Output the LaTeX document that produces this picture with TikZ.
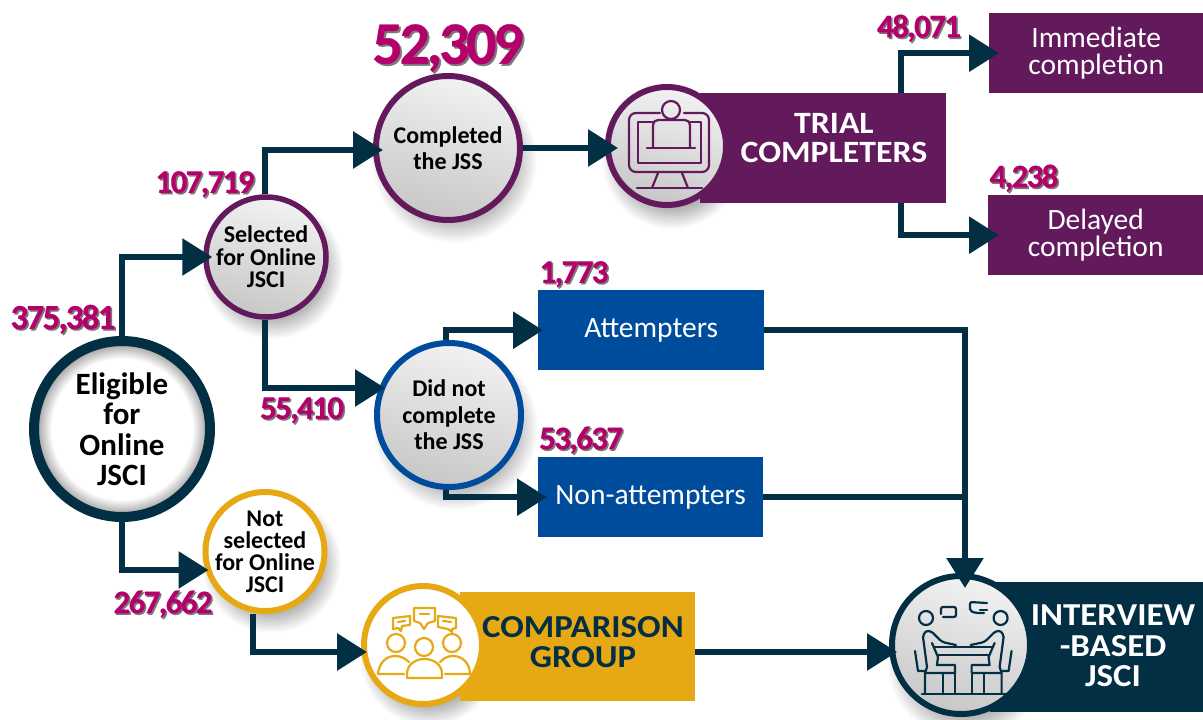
\documentclass[tikz,border=0pt]{standalone}
\usepackage{fontspec}
\setmainfont{Carlito}
\newfontfamily\numfont[LetterSpace=-5,BoldFeatures={FakeBold=0.5}]{Carlito}
\newfontfamily\bignumfont[LetterSpace=-5.5,BoldFeatures={FakeBold=0.6}]{Carlito}
\newfontfamily\headfont[BoldFeatures={FakeStretch=1.09}]{Carlito}
\usetikzlibrary{arrows.meta,calc}
\definecolor{navy}{HTML}{032F45}
\definecolor{plum}{HTML}{621A5C}
\definecolor{royal}{HTML}{004C9C}
\definecolor{gold}{HTML}{E6A914}
\definecolor{mag}{HTML}{B4006B}
\definecolor{shd}{HTML}{7A7A7A}
\pgfdeclareradialshading{glow}{\pgfpoint{0bp}{0bp}}{color(0bp)=(white); color(20bp)=(white); color(23.5bp)=(gray!60); color(25bp)=(black!80); color(50bp)=(black!80)}
\pgfdeclareradialshading{softshadow}{\pgfpoint{0bp}{0bp}}{color(0bp)=(black!40); color(16bp)=(black!36); color(25bp)=(white); color(50bp)=(white)}
\newcommand{\shnum}[1]{\makebox[0pt][l]{\kern1.6pt\raisebox{-1.6pt}{\textcolor{shd}{#1}}}\textcolor{mag}{#1}}
\newcommand{\shbig}[1]{\makebox[0pt][l]{\kern2pt\raisebox{-2pt}{\textcolor{shd}{#1}}}\textcolor{mag}{#1}}
\newcommand{\seatedfigure}{%
\draw (926,618) circle[radius=7];
\draw (923,637) -- (927,667) -- (925,673) -- (925,693);
\draw (943,673) -- (943,693);
\draw (925,673) -- (955,673) -- (955,665) -- (937,665) -- (938,657);
\draw[rounded corners=3pt] (923,637) -- (925,631) -- (931,631) -- (942,642) -- (956,645);
\draw (932,643) -- (938,657);
\draw (915,651) -- (918,671) -- (925,671);
\draw (955,673) -- (955,693);
}
\tikzset{
  x=1pt,y=-1pt,
  ball/.style={circle,inner sep=-14pt,align=center,top color=white!95!black,bottom color=black!22,shading angle=-15,font=\fontsize{24}{26.5}\selectfont\bfseries,text=black},
  box/.style={rectangle,inner sep=0pt,anchor=north west,align=center},
  lab/.style={font=\fontsize{29.5}{27}\selectfont,text=white,align=center,inner sep=0pt},
  headtxt/.style={font=\headfont\fontsize{31}{29.5}\selectfont\bfseries,align=center,inner sep=0pt},
  num/.style={font=\numfont\fontsize{33}{33}\selectfont\bfseries,inner sep=0pt},
  link/.style={draw=navy,line width=6pt,line join=miter,-{Triangle[length=30pt,width=36pt]}},
  plain/.style={draw=navy,line width=6pt},
  icon/.style={line width=2.2pt,line cap=round,line join=round,fill=none},
  shadowdisc/.style={shading=softshadow},
}
\begin{document}
\begin{tikzpicture}
\useasboundingbox (0,0) rectangle (1203,720);
% soft shadows
\shade[shadowdisc] (272,268) circle[radius=71];
\shade[shadowdisc] (454,160) circle[radius=83];
\shade[shadowdisc] (455,427) circle[radius=83];
\shade[shadowdisc] (271,563) circle[radius=70];
\shade[shadowdisc] (672,158) circle[radius=71];
\shade[shadowdisc] (429,656) circle[radius=70];
\shade[shadowdisc] (966,660) circle[radius=80];
% boxes
\node[box,fill=plum,minimum width=246pt,minimum height=110pt] (trial) at (700,93) {};
\node[box,fill=plum,minimum width=214pt,minimum height=80pt,lab] (imm) at (989,13) {Immediate\\completion};
\node[box,fill=plum,minimum width=215pt,minimum height=80pt,lab] (del) at (988,195) {Delayed\\completion};
\node[box,fill=royal,minimum width=226pt,minimum height=80pt,lab] (att) at (538,290) {Attempters};
\node[box,fill=royal,minimum width=225pt,minimum height=80pt,lab] (non) at (538,457) {Non-attempters};
\node[box,fill=gold,minimum width=235pt,minimum height=109pt] (comp) at (460,592) {};
\node[box,fill=navy,minimum width=213pt,minimum height=130pt] (intvbox) at (990,582) {};
% circles
\node[circle,inner sep=-14pt,minimum size=176pt,line width=10pt,draw=navy,shading=glow,font=\fontsize{31}{30.5}\selectfont\bfseries,align=center] (elig) at (122,429) {Eligible\\for\\Online\\JSCI};
\node[ball,minimum size=120pt,line width=5.5pt,draw=plum,font=\fontsize{24}{22.5}\selectfont\bfseries] (sel) at (266,257) {Selected\\for Online\\JSCI};
\node[ball,minimum size=144pt,line width=6pt,draw=plum] (done) at (448,148) {Completed\\the JSS};
\node[ball,minimum size=144pt,line width=6pt,draw=royal] (notdone) at (449,415) {Did not\\complete\\the JSS};
\node[ball,minimum size=119pt,line width=6pt,draw=gold,top color=white,bottom color=white,font=\fontsize{24}{22}\selectfont\bfseries] (notsel) at (265,551.5) {Not\\selected\\for Online\\JSCI};
\node[ball,minimum size=118pt,line width=6pt,draw=plum] (trialc) at (667,146) {};
\node[circle,inner sep=0pt,minimum size=118pt,line width=6pt,draw=gold,fill=white] (compc) at (423,645) {};
\node[ball,minimum size=138pt,line width=6pt,draw=navy] (intv) at (961,645) {};
% bend guides
\coordinate (tx) at (901,0);
\coordinate (ax) at (446,0);
\coordinate (sx) at (253,0);
\coordinate (sy) at (265,0);
\coordinate (ix) at (965,0);
\coordinate (cy) at (0,652);
\coordinate (ty) at (0,150);
\coordinate (ly) at (0,388);
\coordinate (ny) at (0,570);
% connectors
\draw[link,shorten >=-9pt] (elig.north) |- (sel.west);
\draw[link,shorten >=-6pt] (elig.south) |- (notsel.west |- ny);
\draw[link,shorten >=-10pt] (sel.north -| sy) |- (done.west |- ty);
\draw[link,shorten >=-11pt] (sel.south -| sy) |- (notdone.west |- ly);
\draw[link,shorten >=-13pt] (done.east) -- (trialc.west |- done.east);
\draw[link,shorten >=-10pt] (trial.north -| tx) |- (imm.west);
\draw[link,shorten >=-11pt] (trial.south -| tx) |- (del.west);
\draw[link,shorten >=-5pt] (notdone.north -| ax) |- (att.west);
\draw[link,shorten >=-9pt] (notdone.south -| ax) |- (non.west);
\draw[link,shorten >=-15pt] (att.east) -| (intv.north -| ix);
\draw[plain] (non.east) -- (non.east -| ix);
\draw[link,shorten >=-6pt] (notsel.south -| sx) |- (compc.west |- cy);
\draw[link,shorten >=-8pt] (comp.east |- cy) -- (intv.west |- cy);
% headings
\node[headtxt,text=white] (trialt) at (834,138) {TRIAL\\COMPLETERS};
\node[headtxt,text=navy,font=\headfont\fontsize{32}{30.5}\selectfont\bfseries] (compt) at (583,642) {COMPARISON\\GROUP};
\node[headtxt,text=white,font=\headfont\fontsize{32}{30.5}\selectfont\bfseries] (intvt) at (1113,646) {INTERVIEW\\-BASED\\JSCI};
% numbers
\node[inner sep=0pt,font=\bignumfont\fontsize{60}{60}\selectfont\bfseries] (n1) at (448,49) {\shbig{52,309}};
\node[num] (n2) at (919,29) {\shnum{48,071}};
\node[num] (n3) at (1024,179) {\shnum{4,238}};
\node[num] (n4) at (205,185) {\shnum{107,719}};
\node[num] (n5) at (574,275) {\shnum{1,773}};
\node[num] (n6) at (581,441) {\shnum{53,637}};
\node[num] (n7) at (302,411) {\shnum{55,410}};
\node[num,font=\numfont\fontsize{35}{35}\selectfont\bfseries] (n8) at (63,320) {\shnum{375,381}};
\node[num] (n9) at (163,605) {\shnum{267,662}};
% monitor icon
\begin{scope}[draw=plum,icon]
\draw[rounded corners=7pt] (660,113) -- (629,113) -- (629,172) -- (709,172) -- (709,113) -- (684,113);
\draw (653,122) -- (638,122) -- (638,163) -- (701,163) -- (701,122) -- (690,122);
\draw (671,110) circle[radius=9];
\draw[rounded corners=5pt] (653,148) -- (653,120) -- (690,120) -- (690,148);
\draw (647,148) -- (695,148);
\draw (658,173) -- (652,188);
\draw (682,173) -- (688,188);
\draw (637,188) -- (702,188);
\end{scope}
% people icon
\begin{scope}[draw=gold,icon]
\draw (424,647) circle[radius=9];
\draw (396,643) circle[radius=9];
\draw (452,643) circle[radius=9];
\draw (407,678) -- (442,678) -- (442,674) .. controls (442,664) and (433,659) .. (424.5,659) .. controls (416,659) and (407,664) .. (407,674) -- cycle;
\draw (409,662) .. controls (404,657) and (399,656) .. (395,656) .. controls (385,656) and (379,664) .. (378,674) -- (404,674);
\draw (440,662) .. controls (445,657) and (449,656) .. (453,656) .. controls (463,656) and (470,664) .. (470,674) -- (445,674);
\draw (414,610) -- (414,621) -- (420,623) -- (424,629) -- (428,623) -- (435,621) -- (435,608) -- (414,608) -- cycle;
\draw (420,614) -- (429,614);
\draw (393,618) -- (393,629) -- (398,628) -- (401,631) -- (402,626) -- (410,625) -- (410,616) -- cycle;
\draw (398,622) -- (405,621);
\draw (438,616) -- (438,627) -- (448,629) -- (452,632) -- (452,629) -- (456,628) -- (456,618) -- cycle;
\draw (443,621) -- (451,622);
\end{scope}
% interview icon
\begin{scope}[draw=navy,icon]
\draw[rounded corners=2pt] (941,614) -- (941,607) -- (956,607) -- (956,617) -- (943,617);
\draw[rounded corners=2pt] (980,610) -- (987,610);
\draw[rounded corners=2pt] (987,603) -- (970,602) -- (970,611) -- (976,613) -- (984,613);
\draw (935,647) -- (992,647);
\draw (938,655) -- (989,655);
\draw (922,694) -- (1006,694);
\seatedfigure
\begin{scope}[shift={(1926.6,0)},xscale=-1]
\seatedfigure
\end{scope}
\end{scope}
\end{tikzpicture}
\end{document}
